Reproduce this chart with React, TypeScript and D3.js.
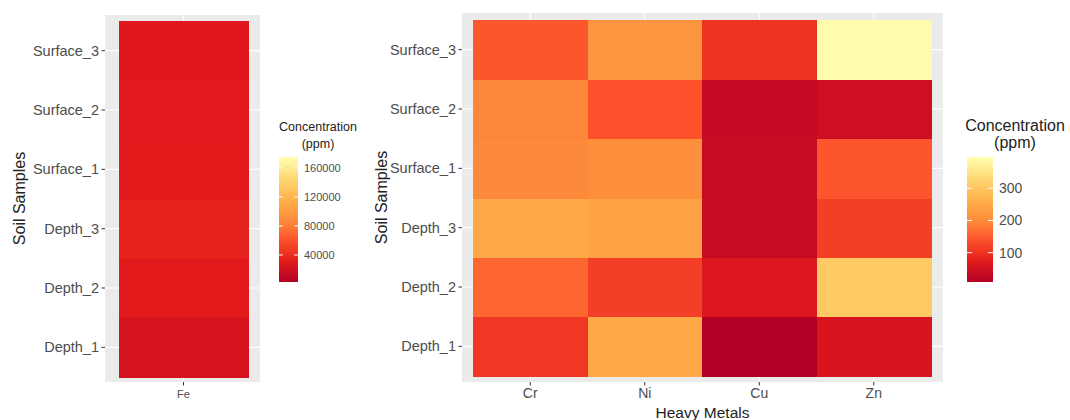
import * as d3 from 'd3';

// 샘플 / 금속
const samples = ['Depth_1', 'Depth_2', 'Depth_3', 'Surface_1', 'Surface_2', 'Surface_3'];
const feMetals = ['Fe'];
const heavyMetals = ['Cr', 'Ni', 'Cu', 'Zn'];

// Fe (ppm), samples 순서
const feValues = [24000, 31000, 34500, 31500, 30500, 29500];

// Cr, Ni, Cu, Zn (ppm), samples 순서
const crValues = [105, 160, 250, 200, 195, 145];
const niValues = [250, 115, 240, 207, 140, 215];
const cuValues = [12, 65, 38, 36, 35, 100];
const znValues = [60, 305, 115, 145, 45, 392];

// 범례 범위 / 눈금
const feLimits = [2760, 175000];
const feTicks = [40000, 80000, 120000, 160000];
const hmLimits = [9, 397];
const hmTicks = [100, 200, 300];

// YlOrRd (낮음 → 높음)
const palette = ['#b10026', '#e31a1c', '#fc4e2a', '#fd8d3c', '#feb24c', '#fed976', '#ffffb2'];

const FONT = '"Liberation Sans", Arial, sans-serif';

function makeColor(limits: number[]) {
  const [lo, hi] = limits;
  return d3.scaleLinear<string>()
    .domain(palette.map((_, i) => lo + (i * (hi - lo)) / (palette.length - 1)))
    .range(palette)
    .interpolate(d3.interpolateLab)
    .clamp(true);
}

type Cell = { metal: string; sample: string; value: number };

function toCells(metals: string[], cols: number[][]): Cell[] {
  return metals.flatMap((m, i) => samples.map((s, j) => ({ metal: m, sample: s, value: cols[i][j] })));
}

function Panel({ metals, cells, limits, box, inner, labelSize, xTitle, yTitleX }: {
  metals: string[]; cells: Cell[]; limits: number[];
  box: { x0: number; x1: number; y0: number; y1: number };
  inner: { x0: number; x1: number; y0: number; y1: number };
  labelSize: number; xTitle?: string; yTitleX: number;
}) {
  const color = makeColor(limits);
  const x = d3.scaleBand().domain(metals).range([inner.x0, inner.x1]);
  const y = d3.scaleBand().domain([...samples].reverse()).range([inner.y0, inner.y1]);

  return (
    <g>
      <rect x={box.x0} y={box.y0} width={box.x1 - box.x0} height={box.y1 - box.y0} fill="#ebebeb" />
      {/* 격자 */}
      {samples.map((s) => (
        <line key={s} x1={box.x0} x2={box.x1} y1={y(s)! + y.bandwidth() / 2} y2={y(s)! + y.bandwidth() / 2}
          stroke="#fff" strokeWidth={1.1} />
      ))}
      {metals.map((m) => (
        <line key={m} y1={box.y0} y2={box.y1} x1={x(m)! + x.bandwidth() / 2} x2={x(m)! + x.bandwidth() / 2}
          stroke="#fff" strokeWidth={1.1} />
      ))}
      {/* 타일 */}
      <g shapeRendering="crispEdges">
        {cells.map((d) => (
          <rect key={d.metal + d.sample} x={x(d.metal)} y={y(d.sample)} width={x.bandwidth() + 0.5}
            height={y.bandwidth() + 0.5} fill={color(d.value)} />
        ))}
      </g>
      {/* Y축 */}
      {samples.map((s) => {
        const cy = y(s)! + y.bandwidth() / 2;
        return (
          <g key={'y' + s}>
            <line x1={box.x0 - 3.5} x2={box.x0} y1={cy} y2={cy} stroke="#333" strokeWidth={1} />
            <text x={box.x0 - 6} y={cy} dy="0.35em" textAnchor="end" fontSize={14.5} fill="#4d4d4d">{s}</text>
          </g>
        );
      })}
      {/* X축 */}
      {metals.map((m) => {
        const cx = x(m)! + x.bandwidth() / 2;
        return (
          <g key={'x' + m}>
            <line x1={cx} x2={cx} y1={box.y1} y2={box.y1 + 3.5} stroke="#333" strokeWidth={1} />
            <text x={cx} y={box.y1 + 16} textAnchor="middle" fontSize={labelSize} fill="#4d4d4d">{m}</text>
          </g>
        );
      })}
      <text transform={`translate(${yTitleX},${(box.y0 + box.y1) / 2}) rotate(-90)`} textAnchor="middle"
        fontSize={16} fill="#222">Soil Samples</text>
      {xTitle && (
        <text x={(box.x0 + box.x1) / 2} y={box.y1 + 36} textAnchor="middle" fontSize={15.5} fill="#222">{xTitle}</text>
      )}
    </g>
  );
}

function Legend({ id, limits, ticks, x0, width, titleX, titleSize, tickSize }: {
  id: string; limits: number[]; ticks: number[]; x0: number; width: number;
  titleX: number; titleSize: number; tickSize: number;
}) {
  const color = makeColor(limits);
  const y0 = 157, y1 = 282;
  const y = d3.scaleLinear().domain(limits).range([y1, y0]);
  const stops = d3.range(21).map((i) => i / 20);
  return (
    <g>
      <defs>
        <linearGradient id={id} x1="0" y1="1" x2="0" y2="0">
          {stops.map((t) => (
            <stop key={t} offset={t} stopColor={color(limits[0] + t * (limits[1] - limits[0]))} />
          ))}
        </linearGradient>
      </defs>
      <text x={titleX} y={131} textAnchor="middle" fontSize={titleSize} fill="#222">Concentration</text>
      <text x={titleX} y={148} textAnchor="middle" fontSize={titleSize} fill="#222">(ppm)</text>
      <rect x={x0} y={y0} width={width} height={y1 - y0} fill={`url(#${id})`} />
      {ticks.map((t) => (
        <g key={t}>
          <line x1={x0} x2={x0 + width / 5} y1={y(t)} y2={y(t)} stroke="#fff" strokeWidth={1} />
          <line x1={x0 + width - width / 5} x2={x0 + width} y1={y(t)} y2={y(t)} stroke="#fff" strokeWidth={1} />
          <text x={x0 + width + 6} y={y(t)} dy="0.35em" fontSize={tickSize} fill="#4d4d4d">{t}</text>
        </g>
      ))}
    </g>
  );
}

export default function App() {
  const feCells = toCells(feMetals, [feValues]);
  const hmCells = toCells(heavyMetals, [crValues, niValues, cuValues, znValues]);

  return (
    <svg width={1070} height={420} style={{ position: 'absolute', left: 0, top: 0, background: '#fff' }}
      fontFamily={FONT}>
      <Panel metals={feMetals} cells={feCells} limits={feLimits}
        box={{ x0: 105, x1: 260, y0: 15, y1: 382 }}
        inner={{ x0: 119, x1: 248, y0: 21, y1: 377 }}
        labelSize={11} yTitleX={25} />
      <Legend id="feGrad" limits={feLimits} ticks={feTicks} x0={279} width={19}
        titleX={318} titleSize={12.5} tickSize={11} />
      <Panel metals={heavyMetals} cells={hmCells} limits={hmLimits}
        box={{ x0: 462, x1: 943, y0: 13, y1: 382 }}
        inner={{ x0: 473, x1: 931, y0: 20, y1: 376 }}
        labelSize={14} xTitle="Heavy Metals" yTitleX={387} />
      <Legend id="hmGrad" limits={hmLimits} ticks={hmTicks} x0={967} width={26}
        titleX={1015} titleSize={16} tickSize={14} />
    </svg>
  );
}
